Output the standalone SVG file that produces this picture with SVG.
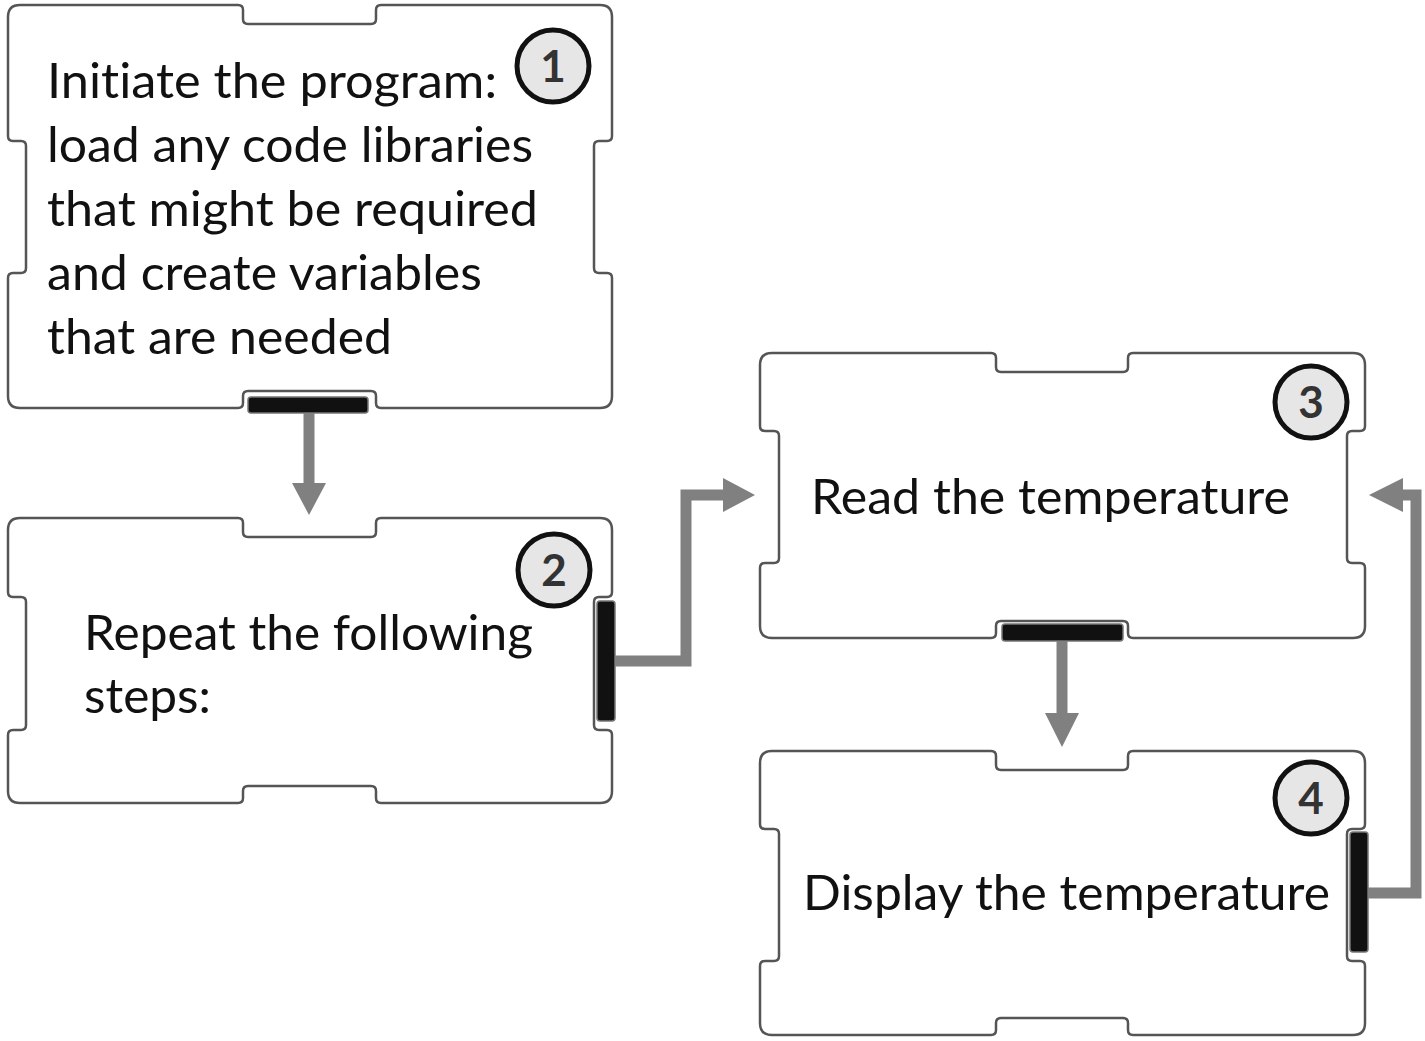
<svg xmlns="http://www.w3.org/2000/svg" width="1425" height="1041" viewBox="0 0 1425 1041">
<defs>
<style>
.blk{fill:#ffffff;stroke:#555555;stroke-width:2.5;stroke-linejoin:round}
.bar{fill:#111111;stroke:#777777;stroke-width:1.5}
.num{fill:#e6e6e6;stroke:#111111;stroke-width:5}
.numt{font-family:Lato,"Open Sans",sans-serif;font-weight:bold;font-size:44px;fill:#333333;text-anchor:middle}
.lbl{font-family:Lato,"Open Sans","Liberation Sans",sans-serif;font-size:48px;fill:#111111;font-variant-ligatures:none;font-feature-settings:"liga" 0,"clig" 0}
.con{fill:none;stroke:#808080;stroke-width:11;stroke-linejoin:miter}
.head{fill:#808080}
</style>
</defs>
<rect width="1425" height="1041" fill="#ffffff"/>

<g id="node1">
<path class="blk" d="M20,5 H238 Q243,5 243,10 V19 Q243,24 248,24 H371 Q376,24 376,19 V10 Q376,5 381,5 H600 Q612,5 612,17 V136 Q612,141 607,141 H599 Q594,141 594,146 V268 Q594,273 599,273 H607 Q612,273 612,278 V396 Q612,408 600,408 H381 Q376,408 376,403 V396 Q376,391 371,391 H248 Q243,391 243,396 V403 Q243,408 238,408 H20 Q8,408 8,396 V278 Q8,273 13,273 H21 Q26,273 26,268 V146 Q26,141 21,141 H13 Q8,141 8,136 V17 Q8,5 20,5 Z"/>
<rect class="bar" x="248" y="397" width="120" height="16" rx="3"/>
<circle class="num" cx="553" cy="66" r="36"/>
<text class="numt" x="553" y="82">1</text>
<text class="lbl" x="47" y="98" textLength="450" lengthAdjust="spacingAndGlyphs">Initiate the program:</text>
<text class="lbl" x="47" y="162" textLength="486" lengthAdjust="spacingAndGlyphs">load any code libraries</text>
<text class="lbl" x="47" y="226" textLength="491" lengthAdjust="spacingAndGlyphs">that might be required</text>
<text class="lbl" x="47" y="290" textLength="435" lengthAdjust="spacingAndGlyphs">and create variables</text>
<text class="lbl" x="47" y="354" textLength="345" lengthAdjust="spacingAndGlyphs">that are needed</text>
</g>

<g id="node2">
<path class="blk" d="M20,518 H238 Q243,518 243,523 V532 Q243,537 248,537 H371 Q376,537 376,532 V523 Q376,518 381,518 H600 Q612,518 612,530 V592 Q612,597 607,597 H599 Q594,597 594,602 V725 Q594,730 599,730 H607 Q612,730 612,735 V791 Q612,803 600,803 H381 Q376,803 376,798 V791 Q376,786 371,786 H248 Q243,786 243,791 V798 Q243,803 238,803 H20 Q8,803 8,791 V735 Q8,730 13,730 H21 Q26,730 26,725 V602 Q26,597 21,597 H13 Q8,597 8,592 V530 Q8,518 20,518 Z"/>
<rect class="bar" x="597" y="601" width="18" height="120" rx="3"/>
<circle class="num" cx="554" cy="570" r="36"/>
<text class="numt" x="554" y="586">2</text>
<text class="lbl" x="84" y="650" textLength="449" lengthAdjust="spacingAndGlyphs">Repeat the following</text>
<text class="lbl" x="84" y="713" textLength="127" lengthAdjust="spacingAndGlyphs">steps:</text>
</g>

<g id="node3">
<path class="blk" d="M772,353 H991 Q996,353 996,358 V367 Q996,372 1001,372 H1123 Q1128,372 1128,367 V358 Q1128,353 1133,353 H1353 Q1365,353 1365,365 V426 Q1365,431 1360,431 H1352 Q1347,431 1347,436 V558 Q1347,563 1352,563 H1360 Q1365,563 1365,568 V626 Q1365,638 1353,638 H1133 Q1128,638 1128,633 V626 Q1128,621 1123,621 H1001 Q996,621 996,626 V633 Q996,638 991,638 H772 Q760,638 760,626 V568 Q760,563 765,563 H774 Q779,563 779,558 V436 Q779,431 774,431 H765 Q760,431 760,426 V365 Q760,353 772,353 Z"/>
<rect class="bar" x="1002" y="624" width="121" height="17" rx="3"/>
<circle class="num" cx="1311" cy="402" r="36"/>
<text class="numt" x="1311" y="418">3</text>
<text class="lbl" x="811" y="514" textLength="479" lengthAdjust="spacingAndGlyphs">Read the temperature</text>
</g>

<g id="node4">
<path class="blk" d="M772,751 H991 Q996,751 996,756 V765 Q996,770 1001,770 H1123 Q1128,770 1128,765 V756 Q1128,751 1133,751 H1353 Q1365,751 1365,763 V824 Q1365,829 1360,829 H1352 Q1347,829 1347,834 V956 Q1347,961 1352,961 H1360 Q1365,961 1365,966 V1023 Q1365,1035 1353,1035 H1133 Q1128,1035 1128,1030 V1023 Q1128,1018 1123,1018 H1001 Q996,1018 996,1023 V1030 Q996,1035 991,1035 H772 Q760,1035 760,1023 V966 Q760,961 765,961 H774 Q779,961 779,956 V834 Q779,829 774,829 H765 Q760,829 760,824 V763 Q760,751 772,751 Z"/>
<rect class="bar" x="1350" y="832" width="18" height="120" rx="3"/>
<circle class="num" cx="1311" cy="798" r="36"/>
<text class="numt" x="1311" y="814">4</text>
<text class="lbl" x="803" y="910" textLength="527" lengthAdjust="spacingAndGlyphs">Display the temperature</text>
</g>

<g id="connectors">
<path class="con" d="M309,413 V484"/>
<polygon class="head" points="292,483 326,483 309,515"/>
<path class="con" d="M615,661 H686 V495 H724"/>
<polygon class="head" points="723,478 755,495 723,512"/>
<path class="con" d="M1062,641 V714"/>
<polygon class="head" points="1045,713 1079,713 1062,747"/>
<path class="con" d="M1368,893 H1416 V495 H1402"/>
<polygon class="head" points="1403,478 1369,495 1403,512"/>
</g>
</svg>
